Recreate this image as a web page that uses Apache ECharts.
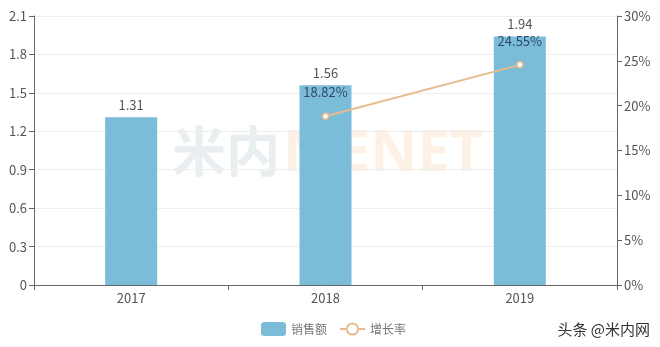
<!DOCTYPE html>
<html><head><meta charset="utf-8">
<script src="https://cdn.jsdelivr.net/npm/echarts@6/dist/echarts.min.js"></script>
<style>html,body{margin:0;padding:0;background:#fff}#c{width:660px;height:347px}</style>
</head><body><div id="c"></div>
<script>
const categories = ['2017', '2018', '2019'];
const salesValues = [1.31, 1.56, 1.94];
const growthValues = [null, 18.82, 24.55];
const leftTicks = [0, 0.3, 0.6, 0.9, 1.2, 1.5, 1.8, 2.1];
const rightTicks = ['0%', '5%', '10%', '15%', '20%', '25%', '30%'];

const font = '"Noto Sans CJK SC", "Open Sans", sans-serif';
const chart = echarts.init(document.getElementById('c'));
chart.setOption({
  animation: false,
  textStyle: { fontFamily: font },
  graphic: [
    { type: 'text', left: 172, top: 124, z: 0, silent: true,
      style: { text: '米内', font: 'bold 54px "Noto Sans CJK SC"', fill: '#e9eff1' } },
    { type: 'text', left: 283, top: 125, z: 0, silent: true,
      style: { text: 'MENET', font: 'bold 58px "Open Sans", sans-serif', fill: '#fdf1e6' } },
    { type: 'text', right: 10, top: 322, silent: true,
      style: { text: '头条 @米内网', font: '15px "Noto Sans CJK SC"', fill: '#333' } }
  ],
  legend: {
    bottom: 6, left: 256,
    itemWidth: 25, itemHeight: 14, itemGap: 12,
    textStyle: { color: '#777', fontSize: 12 },
    data: [{ name: '销售额', icon: 'roundRect' }, { name: '增长率' }]
  },
  grid: { left: 34, right: 43, top: 16, bottom: 62 },
  xAxis: {
    type: 'category', data: categories,
    axisLine: { lineStyle: { color: '#666' } },
    axisTick: { show: true, lineStyle: { color: '#666' } },
    axisLabel: { color: '#555', fontSize: 13, margin: 7 }
  },
  yAxis: [
    { type: 'value', min: 0, max: 2.1, interval: 0.3,
      axisLine: { show: true, lineStyle: { color: '#666' } },
      axisTick: { show: true, lineStyle: { color: '#666' } },
      axisLabel: { color: '#555', fontSize: 13, margin: 7, formatter: v => String(+v.toFixed(1)) },
      splitLine: { lineStyle: { color: '#eee' } } },
    { type: 'value', min: 0, max: 30, interval: 5,
      axisLine: { show: true, lineStyle: { color: '#666' } },
      axisTick: { show: true, lineStyle: { color: '#666' } },
      axisLabel: { color: '#555', fontSize: 13, margin: 7, formatter: v => rightTicks[Math.round(v / 5)] },
      splitLine: { show: false } }
  ],
  series: [
    { name: '销售额', type: 'bar', data: salesValues, barWidth: 52, z: 2,
      itemStyle: { color: '#7bbcd9' },
      label: { show: true, position: 'top', distance: 6, color: '#555', fontSize: 13 } },
    { name: '增长率', type: 'line', yAxisIndex: 1, data: growthValues, z: 3,
      symbol: 'circle', symbolSize: 6,
      lineStyle: { color: '#e8bb8f', width: 2 },
      itemStyle: { color: '#fff', borderColor: '#e8bb8f', borderWidth: 1.5 },
      label: { show: true, position: 'top', distance: 14, color: '#2e4a66', fontSize: 13,
        formatter: p => p.value.toFixed(2) + '%' } }
  ]
});
</script></body></html>
